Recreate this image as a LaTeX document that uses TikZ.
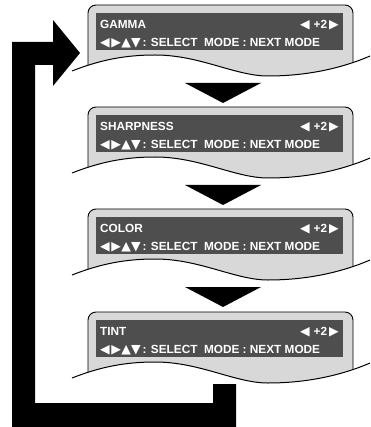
\documentclass[tikz,border=0pt]{standalone}
\usepackage{fontspec}
\setmainfont{Liberation Sans}
\newfontfamily\symfont{DejaVu Sans}
\definecolor{panelgray}{RGB}{216,216,216}
\definecolor{bargray}{RGB}{78,78,78}
\newcommand{\tri}[1]{{\symfont\fontsize{12.5}{10}\selectfont #1}}
\begin{document}
\begin{tikzpicture}[x=1pt,y=-1pt,
  paneltxt/.style={text=white,font=\bfseries\fontsize{11.8}{12}\selectfont,inner sep=0pt},
  panelbox/.style={fill=panelgray,draw=black,line width=0.9pt,rounded corners=8pt},
  wave/.style={draw=black,line width=1pt},
  downarrow/.style={fill=black}]
\useasboundingbox (0,0) rectangle (370,427);
% feedback loop arrow
\coordinate (loopA) at (12,427);
\coordinate (loopB) at (236,427);
\fill (loopA) -- (12,42) -- (53,42) -- (53,20) -- (80,53) -- (53,86) -- (53,65) -- (35,65)
  -- (35,403) -- (213,403) -- (213,384) -- (236,384) -- (loopB) -- cycle;
\foreach \t/\nm/\lab in {5/g/GAMMA,107/s/SHARPNESS,209/c/COLOR,312/t/TINT}{
  \begin{scope}[shift={(0,\t)}]
    \begin{scope}
      \clip (72,66) .. controls (100,55) and (125,50) .. (155,50)
        .. controls (200,50) and (235,71) .. (268,71)
        .. controls (305,71) and (340,64) .. (370,51) -- (370,-5) -- (72,-5) -- cycle;
      \path[panelbox] (88,0) rectangle (353,95);
    \end{scope}
    \fill[bargray] (96,8) rectangle (343,45);
    \node[paneltxt,anchor=base west] (\nm-title) at (100,23.5) {\lab};
    \node[paneltxt,anchor=base east] (\nm-val) at (339,23.5) {\tri{◀}\hspace{4pt}+2\hspace{2pt}\tri{▶}};
    \node[paneltxt,anchor=base west] (\nm-help) at (100,41.5) {\tri{◀}\hspace{1.5pt}\tri{▶}\hspace{0.5pt}\tri{▲}\tri{▼}\hspace{2pt}: SELECT\ \ MODE : NEXT MODE};
    \path[wave] (72,66) .. controls (100,55) and (125,50) .. (155,50)
        .. controls (200,50) and (235,71) .. (268,71)
        .. controls (305,71) and (340,64) .. (370,51);
  \end{scope}
}
\foreach \t in {5,107,209}{
  \fill[downarrow] (185,\t+78) -- (261,\t+78) -- (223,\t+98) -- cycle;
}
\end{tikzpicture}
\end{document}
